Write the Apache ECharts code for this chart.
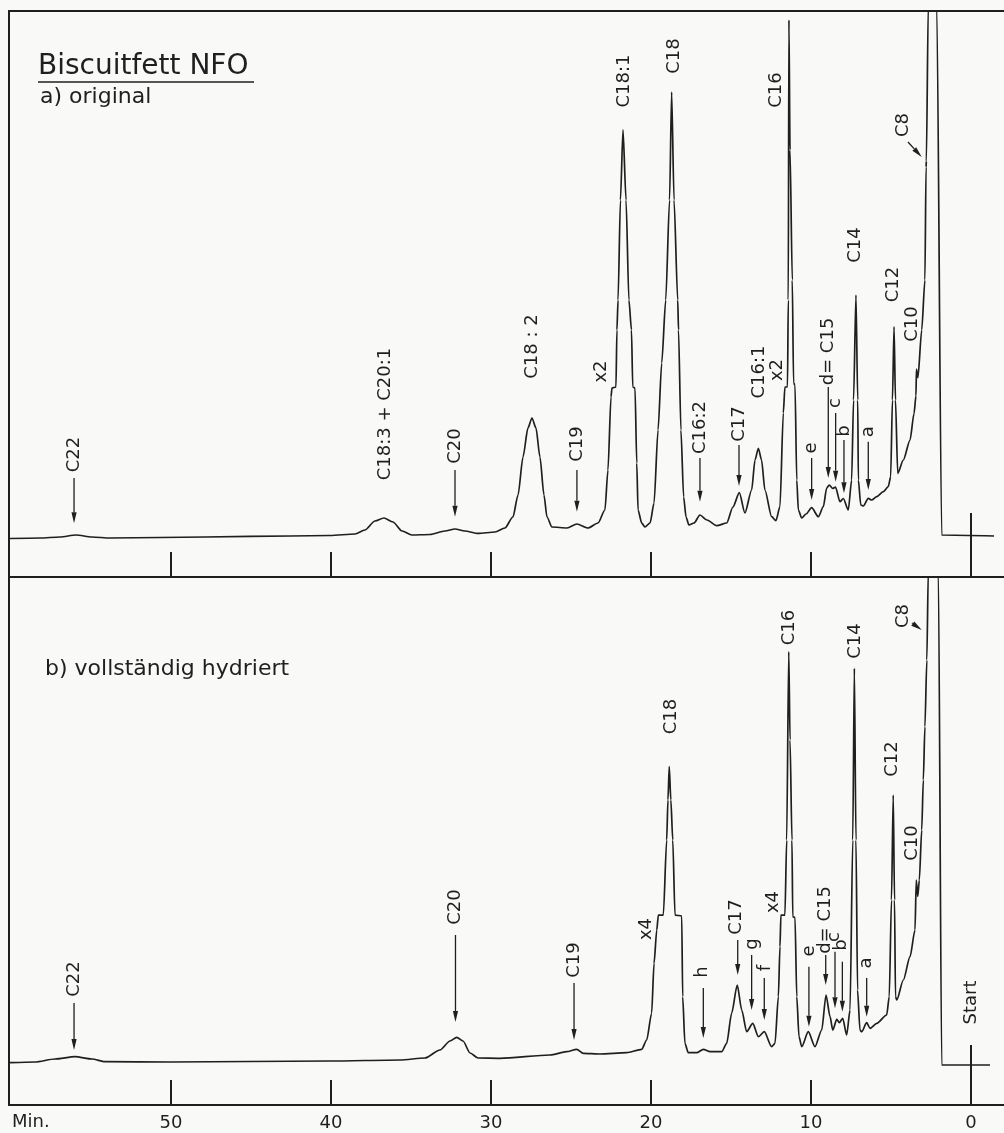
<!DOCTYPE html>
<html>
<head>
<meta charset="utf-8">
<title>Biscuitfett NFO – Gaschromatogramme</title>
<script src="https://cdn.jsdelivr.net/npm/echarts@6/dist/echarts.min.js"></script>
<style>
  html, body { margin: 0; padding: 0; background: #f9f9f7; }
  #chart { width: 1004px; height: 1133px; }
</style>
</head>
<body>
<div id="chart"></div>
<script>
// Retention time in minutes, detector response in % of recorder full scale.

// a) original fat
const traceOriginal = [
  [60.06, 6.80], [58.19, 6.89], [56.94, 7.07], [55.94, 7.42], [54.94, 7.07], [53.81, 6.89],
  [50.69, 6.98], [45.06, 7.16], [40.06, 7.33], [38.50, 7.60], [37.88, 8.30], [37.25, 9.89],
  [36.69, 10.42], [36.13, 9.72], [35.56, 8.13], [34.94, 7.42], [33.81, 7.51], [32.88, 8.13],
  [32.25, 8.48], [31.63, 8.13], [30.81, 7.69], [29.75, 7.95], [29.13, 8.66], [28.63, 10.60],
  [28.31, 14.49], [28.00, 21.20], [27.69, 26.33], [27.44, 28.09], [27.19, 26.33], [26.94, 21.20],
  [26.69, 14.49], [26.50, 10.60], [26.19, 8.83], [25.25, 8.66], [24.63, 9.36], [23.94, 8.66],
  [23.31, 9.54], [22.88, 11.84], [22.69, 18.90], [22.50, 31.80], [22.44, 33.39], [22.19, 33.57],
  [22.13, 43.64], [22.06, 48.94], [21.91, 66.61], [21.75, 78.98], [21.56, 66.61], [21.38, 48.94],
  [21.22, 43.64], [21.14, 33.57], [21.00, 33.39], [20.89, 20.14], [20.81, 11.84], [20.58, 9.54],
  [20.38, 8.83], [20.06, 9.54], [19.81, 13.07], [19.56, 25.97], [19.33, 37.81], [19.08, 48.94],
  [18.84, 66.61], [18.71, 85.69], [18.56, 66.61], [18.33, 48.94], [18.28, 43.64], [18.13, 25.97],
  [17.96, 14.13], [17.81, 10.60], [17.63, 9.19], [17.31, 9.54], [16.94, 10.95], [16.50, 10.07],
  [15.89, 9.06], [15.27, 9.54], [14.88, 12.37], [14.48, 14.89], [14.13, 11.31], [13.71, 15.37],
  [13.50, 20.67], [13.29, 22.74], [13.09, 20.67], [12.88, 15.37], [12.46, 10.65], [12.19, 9.95],
  [11.94, 12.42], [11.73, 28.98], [11.63, 33.57], [11.47, 33.57], [11.42, 48.94], [11.38, 98.41],
  [11.31, 75.44], [11.17, 52.47], [11.09, 34.28], [11.00, 33.92], [10.89, 17.14], [10.79, 11.84],
  [10.58, 10.42], [10.31, 11.13], [9.96, 12.24], [9.54, 10.65], [9.23, 12.42], [9.02, 15.72],
  [8.86, 16.25], [8.64, 15.64], [8.47, 15.90], [8.19, 13.30], [7.98, 13.87], [7.67, 11.84],
  [7.46, 17.14], [7.34, 31.27], [7.19, 49.82], [7.08, 31.27], [7.04, 17.14], [6.89, 12.72],
  [6.73, 12.54], [6.42, 13.90], [6.21, 13.60], [5.89, 14.19], [5.48, 15.07], [5.17, 15.95],
  [5.02, 17.72], [4.91, 31.27], [4.81, 44.22], [4.72, 31.27], [4.58, 18.32], [4.23, 20.67],
  [3.81, 24.20], [3.56, 28.92], [3.44, 32.00], [3.41, 36.75], [3.32, 35.20], [3.08, 43.64],
  [2.88, 52.47], [2.81, 72.44], [2.79, 73.50], [2.67, 101.0], [2.41, 140.0], [2.14, 101.0],
  [1.83, 7.42], [-1.44, 7.24]
];

// b) fully hydrogenated fat
const traceHydrogenated = [
  [60.06, 8.01], [58.50, 8.14], [57.25, 8.71], [56.00, 9.15], [54.94, 8.71], [54.13, 8.20],
  [50.06, 8.14], [45.06, 8.24], [40.06, 8.33], [35.69, 8.52], [34.13, 8.90], [33.19, 10.42],
  [32.56, 12.12], [32.14, 12.82], [31.75, 12.12], [31.31, 9.85], [30.81, 8.90], [29.44, 8.84],
  [26.31, 9.47], [25.27, 10.09], [24.64, 10.55], [24.23, 9.79], [23.19, 9.66], [21.52, 9.91],
  [20.58, 10.55], [20.27, 12.31], [19.96, 17.37], [19.81, 26.84], [19.64, 33.14], [19.54, 35.98],
  [19.23, 35.98], [19.02, 50.19], [18.94, 57.77], [18.86, 64.07], [18.76, 57.77], [18.64, 50.19],
  [18.50, 35.98], [18.08, 35.80], [18.02, 20.51], [17.88, 11.69], [17.67, 9.91], [17.14, 9.91],
  [16.73, 10.55], [16.31, 10.09], [15.58, 10.09], [15.27, 11.69], [14.96, 17.37], [14.61, 22.73],
  [14.33, 17.99], [14.02, 13.88], [13.64, 15.47], [13.29, 12.94], [12.92, 13.88], [12.46, 11.04],
  [12.25, 11.69], [12.04, 20.51], [11.94, 29.98], [11.88, 35.98], [11.63, 35.98], [11.52, 50.19],
  [11.39, 85.85], [11.31, 69.13], [11.19, 50.19], [11.14, 35.61], [11.00, 35.55], [10.89, 20.51],
  [10.75, 12.94], [10.58, 11.04], [10.17, 13.88], [9.75, 11.04], [9.33, 14.20], [9.06, 20.83],
  [8.81, 16.72], [8.64, 14.20], [8.39, 16.23], [8.23, 15.59], [8.02, 16.42], [7.77, 13.26],
  [7.56, 17.99], [7.39, 50.19], [7.29, 82.71], [7.19, 50.19], [7.09, 21.78], [6.94, 14.20],
  [6.83, 13.88], [6.52, 15.59], [6.31, 14.53], [5.89, 15.47], [5.27, 17.05], [5.11, 20.51],
  [4.97, 38.83], [4.86, 58.71], [4.78, 38.83], [4.72, 20.51], [4.64, 19.89], [4.23, 23.67],
  [3.81, 28.09], [3.50, 33.14], [3.42, 42.61], [3.33, 39.50], [3.23, 42.61], [3.08, 52.08],
  [2.98, 61.55], [2.88, 71.65], [2.76, 84.28], [2.67, 101.0], [2.38, 150.0], [2.04, 101.0],
  [1.83, 7.58], [-1.19, 7.58]
];

// Peak annotations: [text, time, level of text centre, arrow [tFrom, rFrom, tTo, rTo] or null]
const notesOriginal = [
  ['C22', 56.03, 21.64, [56.06, 17.49, 56.06, 9.49]],
  ['C18:3 + C20:1', 36.63, 28.80, null],
  ['C20', 32.22, 23.14, [32.25, 18.90, 32.25, 10.65]],
  ['C18 : 2', 27.44, 40.72, null],
  ['C19', 24.63, 23.50, [24.63, 18.90, 24.63, 11.54]],
  ['x2', 23.13, 36.31, null],
  ['C18:1', 21.66, 87.63, null],
  ['C18', 18.53, 92.05, null],
  ['C16:2', 16.94, 26.41, [16.94, 21.02, 16.94, 13.30]],
  ['C17', 14.50, 27.03, [14.50, 23.32, 14.50, 16.08]],
  ['C16:1', 13.22, 36.22, null],
  ['x2', 12.13, 36.57, null],
  ['C16', 12.16, 86.04, null],
  ['e', 9.96, 22.79, [9.96, 21.02, 9.96, 13.60]],
  ['d= C15', 8.92, 39.84, [8.92, 33.57, 8.92, 17.49]],
  ['c', 8.46, 30.74, [8.46, 28.98, 8.46, 16.84]],
  ['b', 7.94, 25.80, [7.94, 24.20, 7.94, 14.79]],
  ['a', 6.42, 25.67, [6.42, 23.90, 6.42, 15.37]],
  ['C14', 7.22, 58.66, null],
  ['C12', 4.84, 51.68, null],
  ['C10', 3.66, 44.70, null],
  ['C8', 4.22, 79.86, [3.94, 76.86, 3.08, 74.20]]
];

const notesHydrogenated = [
  ['C22', 56.03, 23.86, [56.06, 19.32, 56.06, 10.42]],
  ['C20', 32.22, 37.50, [32.22, 32.20, 32.22, 15.72]],
  ['C19', 24.81, 27.46, [24.81, 23.11, 24.81, 12.31]],
  ['x4', 20.31, 33.33, null],
  ['C18', 18.72, 73.58, null],
  ['h', 16.78, 25.19, [16.73, 22.16, 16.73, 12.69]],
  ['C17', 14.66, 35.61, [14.58, 31.25, 14.58, 24.62]],
  ['g', 13.66, 30.49, [13.71, 28.41, 13.71, 17.99]],
  ['f', 12.88, 25.95, [12.92, 24.05, 12.92, 16.10]],
  ['x4', 12.38, 38.45, null],
  ['C16', 11.38, 90.44, null],
  ['C14', 7.25, 87.88, null],
  ['C8', 4.22, 92.61, [3.69, 91.29, 3.08, 89.96]],
  ['C12', 4.91, 65.53, null],
  ['C10', 3.66, 49.62, null],
  ['e', 10.13, 29.17, [10.13, 26.20, 10.13, 14.83]],
  ['d= C15', 9.09, 35.04, [9.08, 28.41, 9.08, 22.73]],
  ['c', 8.56, 31.82, [8.50, 29.03, 8.50, 18.31]],
  ['b', 8.08, 30.30, [8.04, 27.14, 8.04, 17.67]],
  ['a', 6.52, 26.89, [6.52, 24.05, 6.52, 16.72]],
  ['Start', 0, 19.41, null]
];

const tickMinutes = [10, 20, 30, 40, 50];
const labelMinutes = [0, 10, 20, 30, 40, 50];
const injectionTime = [[0, 0]];

const INK = '#1f1f1f';
const FONT = '"DejaVu Sans", "Liberation Sans", sans-serif';
const T_MIN = -2.0625, T_MAX = 60.125;

function timeAxis(grid, opts) {
  return Object.assign({
    type: 'value', gridIndex: grid, min: T_MIN, max: T_MAX, inverse: true,
    splitLine: { show: false },
    axisLine: { show: true, onZero: false, lineStyle: { color: INK, width: 2 } },
    axisTick: { show: true, inside: true, length: 25, customValues: tickMinutes,
                lineStyle: { color: INK, width: 2 } },
    axisLabel: { show: false }
  }, opts);
}

function levelAxis(grid) {
  return {
    type: 'value', gridIndex: grid, min: 0, max: 100,
    splitLine: { show: false },
    axisLine: { show: true, onZero: false, lineStyle: { color: INK, width: 2 } },
    axisTick: { show: false }, axisLabel: { show: false }
  };
}

function noteRenderer(notes) {
  return function (params, api) {
    const n = notes[params.dataIndex];
    const c = api.coord([n[1], n[2]]);
    const kids = [{
      type: 'text', x: c[0], y: c[1], rotation: Math.PI / 2,
      style: { text: n[0], fill: INK, font: '18px ' + FONT, align: 'center', verticalAlign: 'middle' }
    }];
    if (n[3]) {
      const a = n[3];
      const p = api.coord([a[0], a[1]]), q = api.coord([a[2], a[3]]);
      const dx = q[0] - p[0], dy = q[1] - p[1], len = Math.hypot(dx, dy);
      const ux = dx / len, uy = dy / len, head = 11, half = 2.6;
      const bx = q[0] - ux * head, by = q[1] - uy * head;
      kids.push({ type: 'line', shape: { x1: p[0], y1: p[1], x2: bx, y2: by },
                  style: { stroke: INK, lineWidth: 1.3 } });
      kids.push({ type: 'polygon',
                  shape: { points: [[q[0], q[1]], [bx - uy * half, by + ux * half], [bx + uy * half, by - ux * half]] },
                  style: { fill: INK } });
    }
    return { type: 'group', children: kids };
  };
}

function startRenderer(height) {
  return function (params, api) {
    const p = api.coord([api.value(0), api.value(1)]);
    return { type: 'line', shape: { x1: p[0], y1: p[1], x2: p[0], y2: p[1] - height },
             style: { stroke: INK, lineWidth: 2 } };
  };
}

function traceSeries(idx, data) {
  return {
    type: 'line', xAxisIndex: idx, yAxisIndex: idx, data: data,
    showSymbol: false, symbol: 'none', smooth: 0.25, smoothMonotone: 'x', clip: true,
    lineStyle: { color: INK, width: 1.7 }, silent: true
  };
}

const chart = echarts.init(document.getElementById('chart'), null, { renderer: 'canvas' });
chart.setOption({
  animation: false,
  backgroundColor: '#f9f9f7',
  grid: [
    { left: 9, right: 0, top: 11, height: 566 },
    { left: 9, right: 0, top: 577, height: 528 }
  ],
  xAxis: [
    timeAxis(0),
    timeAxis(1, {
      axisLabel: { show: true, customValues: labelMinutes, color: INK, fontSize: 18,
                   fontFamily: FONT, margin: 9 }
    }),
    timeAxis(0, { position: 'top', axisTick: { show: false } })
  ],
  yAxis: [levelAxis(0), levelAxis(1)],
  graphic: [
    { type: 'text', x: 38, y: 67, style: { text: 'Biscuitfett NFO', font: '28px ' + FONT, fill: INK, verticalAlign: 'middle' } },
    { type: 'line', shape: { x1: 38, y1: 82, x2: 254, y2: 82 }, style: { stroke: INK, lineWidth: 1.6 } },
    { type: 'text', x: 40, y: 97, style: { text: 'a) original', font: '22px ' + FONT, fill: INK, verticalAlign: 'middle' } },
    { type: 'text', x: 45, y: 669, style: { text: 'b) vollständig hydriert', font: '22px ' + FONT, fill: INK, verticalAlign: 'middle' } },
    { type: 'text', x: 12, y: 1122, style: { text: 'Min.', font: '18px ' + FONT, fill: INK, verticalAlign: 'middle' } }
  ],
  series: [
    traceSeries(0, traceOriginal),
    traceSeries(1, traceHydrogenated),
    { type: 'custom', xAxisIndex: 0, yAxisIndex: 0, silent: true,
      data: notesOriginal.map(n => [n[1], n[2]]), renderItem: noteRenderer(notesOriginal) },
    { type: 'custom', xAxisIndex: 1, yAxisIndex: 1, silent: true,
      data: notesHydrogenated.map(n => [n[1], n[2]]), renderItem: noteRenderer(notesHydrogenated) },
    { type: 'custom', xAxisIndex: 0, yAxisIndex: 0, silent: true,
      data: injectionTime, renderItem: startRenderer(64) },
    { type: 'custom', xAxisIndex: 1, yAxisIndex: 1, silent: true,
      data: injectionTime, renderItem: startRenderer(60) }
  ]
});
</script>
</body>
</html>
